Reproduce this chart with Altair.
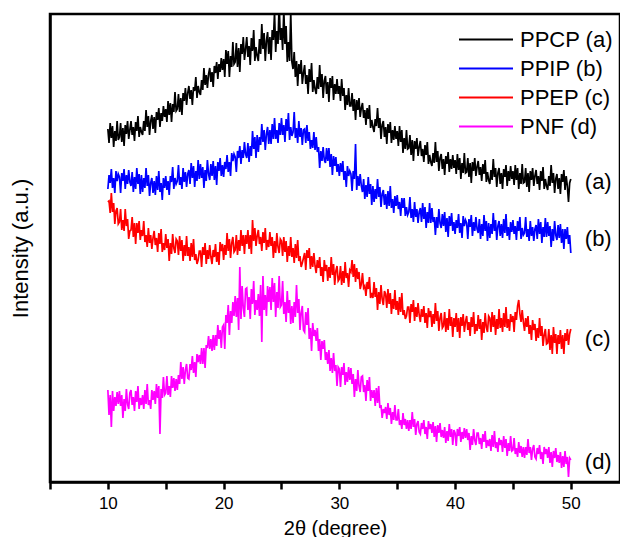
import altair as alt
import numpy as np
import pandas as pd

series_names = ["PPCP (a)", "PPIP (b)", "PPEP (c)", "PNF (d)"]
series_tags = ["(a)", "(b)", "(c)", "(d)"]
series_colors = ["#000000", "#0000ff", "#ff0000", "#ff00ff"]

# offset intensities (a.u.), 2theta = 10..50 in 0.1 steps
ppcp = [
    353, 339, 359, 344, 356, 335, 351, 341, 361, 342,
    345, 359, 340, 354, 336, 357, 348, 361, 343, 352,
    361, 347, 355, 341, 360, 351, 366, 345, 355, 350,
    347, 361, 351, 372, 355, 366, 347, 361, 367, 353,
    365, 349, 370, 362, 374, 355, 369, 361, 376, 365,
    373, 360, 381, 367, 379, 360, 378, 370, 390, 371,
    373, 388, 370, 384, 367, 389, 381, 394, 377, 389,
    396, 383, 392, 377, 395, 391, 405, 384, 396, 390,
    387, 402, 392, 414, 397, 407, 394, 408, 414, 400,
    410, 395, 416, 409, 420, 403, 418, 410, 424, 412,
    423, 405, 432, 418, 431, 405, 426, 415, 440, 418,
    420, 439, 415, 434, 410, 438, 428, 445, 422, 433,
    445, 425, 436, 417, 444, 431, 452, 421, 435, 426,
    421, 443, 428, 458, 433, 449, 421, 441, 450, 428,
    445, 422, 452, 442, 470, 430, 451, 438, 480, 442,
    454, 432, 472, 438, 456, 420, 440, 421, 470, 420,
    413, 430, 405, 421, 396, 418, 408, 422, 398, 409,
    417, 398, 407, 388, 413, 400, 419, 390, 402, 393,
    388, 405, 393, 417, 395, 408, 384, 401, 406, 388,
    400, 380, 404, 394, 406, 382, 398, 388, 403, 388,
    396, 381, 403, 386, 394, 372, 387, 377, 394, 376,
    376, 389, 371, 383, 362, 382, 372, 384, 365, 374,
    379, 364, 372, 357, 374, 363, 377, 354, 362, 355,
    350, 363, 356, 374, 354, 364, 343, 357, 361, 345,
    355, 338, 358, 349, 360, 339, 352, 342, 356, 343,
    351, 336, 356, 340, 352, 329, 344, 333, 352, 333,
    334, 347, 327, 342, 321, 341, 333, 344, 326, 335,
    341, 326, 333, 320, 337, 327, 340, 318, 327, 320,
    316, 329, 319, 340, 320, 331, 311, 324, 328, 313,
    323, 307, 326, 318, 330, 310, 323, 313, 327, 314,
    322, 308, 328, 312, 324, 303, 319, 309, 329, 309,
    310, 324, 305, 319, 299, 320, 311, 324, 306, 315,
    321, 307, 315, 301, 318, 308, 322, 300, 310, 302,
    298, 312, 302, 323, 305, 314, 295, 309, 314, 298,
    309, 293, 313, 305, 317, 296, 311, 301, 316, 303,
    311, 297, 317, 302, 314, 293, 309, 298, 318, 299,
    300, 314, 295, 309, 290, 311, 302, 314, 296, 306,
    312, 298, 306, 292, 311, 301, 315, 293, 303, 296,
    292, 306, 296, 317, 299, 309, 289, 303, 308, 293,
    304, 288, 308, 300, 312, 292, 306, 296, 280, 299,
    303,
]
ppip = [
    293, 307, 299, 313, 294, 304, 289, 311, 301, 308,
    305, 289, 309, 301, 313, 293, 307, 298, 312, 300,
    296, 310, 290, 305, 293, 314, 298, 308, 288, 307,
    290, 304, 294, 314, 296, 307, 286, 299, 304, 289,
    301, 287, 306, 292, 311, 290, 299, 282, 304, 294,
    306, 292, 301, 287, 306, 300, 315, 293, 304, 298,
    301, 317, 297, 305, 293, 314, 300, 310, 295, 308,
    312, 298, 319, 304, 316, 295, 311, 301, 322, 303,
    318, 304, 315, 294, 312, 301, 322, 308, 302, 318,
    306, 321, 302, 316, 297, 320, 311, 324, 306, 317,
    305, 320, 313, 327, 310, 320, 306, 329, 321, 328,
    325, 310, 331, 324, 336, 318, 332, 324, 340, 328,
    324, 339, 320, 336, 326, 351, 333, 345, 324, 347,
    330, 345, 337, 358, 340, 352, 332, 348, 355, 338,
    352, 338, 358, 343, 364, 343, 352, 339, 359, 347,
    364, 347, 357, 340, 363, 351, 369, 342, 355, 346,
    350, 370, 344, 354, 339, 361, 345, 354, 337, 352,
    353, 339, 357, 341, 350, 333, 342, 334, 350, 332,
    345, 330, 335, 314, 331, 321, 335, 322, 319, 334,
    321, 334, 315, 328, 307, 326, 316, 325, 310, 318,
    306, 319, 310, 321, 302, 311, 295, 316, 306, 311,
    308, 291, 311, 303, 338, 292, 306, 296, 308, 296,
    290, 303, 283, 297, 285, 305, 288, 298, 277, 296,
    280, 293, 283, 303, 285, 295, 275, 288, 292, 277,
    288, 273, 291, 276, 296, 274, 283, 269, 286, 276,
    287, 273, 280, 266, 284, 274, 284, 266, 275, 267,
    270, 285, 264, 273, 260, 280, 265, 273, 259, 270,
    274, 260, 279, 263, 275, 254, 270, 259, 279, 259,
    274, 260, 265, 247, 265, 254, 273, 259, 254, 268,
    256, 270, 250, 264, 245, 266, 256, 269, 251, 260,
    248, 262, 254, 268, 249, 259, 244, 266, 256, 262,
    259, 243, 263, 255, 267, 246, 260, 251, 265, 253,
    249, 263, 243, 258, 246, 267, 251, 261, 241, 259,
    244, 258, 248, 269, 251, 262, 242, 256, 261, 246,
    258, 244, 263, 249, 268, 246, 255, 242, 260, 250,
    262, 248, 256, 242, 261, 251, 265, 243, 254, 247,
    249, 265, 245, 253, 241, 261, 246, 255, 241, 253,
    257, 243, 263, 248, 260, 239, 255, 245, 264, 245,
    260, 246, 256, 235, 253, 241, 261, 247, 242, 257,
    244, 258, 239, 253, 233, 253, 243, 255, 238, 247,
    229,
]
ppep = [
    280, 281, 269, 289, 270, 279, 258, 271, 274, 258,
    260, 273, 252, 262, 251, 273, 256, 263, 243, 251,
    252, 265, 245, 259, 238, 259, 249, 261, 242, 252,
    246, 261, 240, 247, 235, 254, 239, 247, 233, 244,
    251, 237, 244, 230, 249, 238, 253, 230, 239, 232,
    248, 234, 243, 221, 239, 228, 248, 234, 229, 243,
    241, 227, 246, 231, 242, 221, 237, 226, 246, 226,
    235, 221, 239, 225, 243, 222, 228, 218, 222, 231,
    231, 215, 235, 227, 239, 218, 232, 223, 237, 225,
    218, 232, 225, 238, 220, 230, 217, 240, 231, 238,
    222, 237, 227, 249, 231, 243, 224, 239, 245, 230,
    232, 247, 227, 242, 231, 252, 236, 247, 228, 247,
    238, 252, 233, 247, 228, 262, 241, 254, 236, 246,
    252, 238, 245, 231, 250, 239, 254, 232, 242, 235,
    250, 236, 245, 224, 241, 229, 249, 235, 229, 243,
    241, 226, 245, 230, 241, 220, 236, 226, 245, 225,
    234, 219, 238, 224, 242, 221, 226, 215, 219, 224,
    229, 212, 232, 224, 234, 213, 226, 215, 229, 216,
    209, 222, 214, 225, 206, 215, 200, 222, 211, 217,
    201, 215, 204, 225, 207, 218, 197, 211, 216, 201,
    203, 216, 197, 211, 199, 220, 204, 209, 195, 212,
    210, 222, 205, 218, 200, 214, 203, 210, 193, 198,
    209, 194, 196, 186, 200, 193, 205, 184, 189, 184,
    200, 185, 194, 172, 190, 178, 197, 183, 177, 191,
    188, 174, 193, 178, 189, 168, 183, 173, 192, 172,
    181, 167, 185, 170, 189, 167, 172, 163, 166, 175,
    175, 159, 178, 170, 182, 161, 175, 165, 179, 167,
    160, 173, 165, 176, 159, 169, 154, 174, 165, 171,
    155, 168, 158, 179, 161, 171, 151, 164, 169, 154,
    156, 170, 150, 164, 152, 173, 156, 165, 145, 164,
    155, 169, 150, 164, 144, 165, 156, 168, 150, 160,
    166, 152, 160, 146, 165, 155, 170, 148, 158, 151,
    167, 153, 163, 142, 160, 149, 169, 155, 150, 166,
    164, 150, 170, 155, 167, 147, 163, 153, 173, 154,
    164, 150, 169, 155, 175, 154, 163, 151, 168, 160,
    166, 150, 170, 162, 176, 182, 168, 160, 172, 160,
    151, 164, 155, 166, 148, 157, 142, 162, 152, 158,
    141, 154, 144, 164, 146, 156, 136, 147, 153, 138,
    139, 153, 132, 147, 128, 155, 139, 148, 128, 147,
    138, 152, 133, 147, 128, 149, 141, 153, 137, 148,
    153,
]
pnf = [
    92, 67, 87, 55, 91, 71, 85, 76, 90, 78,
    91, 76, 87, 64, 83, 71, 93, 78, 73, 89,
    92, 77, 85, 71, 91, 80, 96, 73, 84, 77,
    87, 73, 92, 78, 98, 77, 82, 73, 92, 82,
    91, 78, 98, 84, 96, 48, 93, 84, 105, 87,
    89, 106, 87, 96, 85, 106, 94, 104, 91, 103,
    92, 107, 98, 120, 103, 115, 98, 112, 118, 104,
    103, 118, 112, 126, 109, 120, 105, 128, 120, 127,
    118, 134, 118, 134, 114, 137, 134, 146, 133, 143,
    131, 147, 132, 147, 136, 157, 143, 152, 134, 155,
    157, 133, 167, 159, 177, 147, 171, 159, 180, 166,
    186, 165, 184, 152, 215, 163, 196, 174, 165, 193,
    194, 172, 185, 163, 193, 178, 201, 167, 182, 172,
    188, 166, 197, 140, 206, 172, 187, 166, 196, 180,
    195, 172, 204, 180, 199, 165, 190, 174, 206, 175,
    177, 201, 168, 180, 160, 191, 169, 182, 158, 176,
    159, 180, 165, 197, 169, 183, 152, 169, 176, 152,
    150, 170, 157, 174, 143, 154, 131, 159, 146, 152,
    141, 154, 131, 143, 122, 141, 133, 142, 122, 130,
    118, 132, 111, 124, 109, 129, 111, 117, 96, 115,
    113, 95, 115, 107, 119, 97, 110, 100, 115, 102,
    114, 98, 108, 85, 103, 91, 112, 96, 90, 105,
    106, 90, 97, 81, 102, 91, 105, 81, 92, 84,
    92, 76, 94, 79, 96, 74, 77, 64, 73, 69,
    75, 63, 79, 67, 74, 58, 70, 62, 77, 62,
    62, 73, 57, 62, 53, 69, 57, 63, 53, 62,
    51, 62, 53, 70, 55, 63, 47, 58, 61, 50,
    48, 59, 53, 62, 48, 55, 43, 61, 53, 58,
    49, 60, 45, 56, 40, 57, 49, 59, 45, 52,
    44, 55, 39, 51, 41, 58, 45, 53, 37, 52,
    49, 36, 53, 46, 55, 40, 50, 43, 54, 44,
    53, 42, 49, 32, 46, 37, 53, 42, 37, 49,
    49, 38, 44, 33, 48, 40, 51, 34, 42, 36,
    43, 31, 47, 35, 51, 34, 40, 30, 44, 37,
    42, 30, 46, 34, 43, 26, 39, 31, 46, 31,
    32, 44, 28, 34, 25, 40, 29, 36, 25, 35,
    24, 35, 27, 43, 29, 35, 22, 33, 37, 25,
    23, 34, 28, 37, 23, 30, 18, 35, 28, 33,
    24, 35, 19, 30, 15, 31, 24, 34, 20, 27,
    19, 30, 14, 26, 15, 31, 18, 25, 5, 24,
    22,
]

all_series = [ppcp, ppip, ppep, pnf]

rows = []
for name, vals in zip(series_names, all_series):
    n = len(vals)
    for i, y in enumerate(vals):
        rows.append({"theta": round(10 + 40 * i / (n - 1), 2), "intensity": y, "sample": name})
df = pd.DataFrame(rows)

tag_rows = []
for tag, vals in zip(series_tags, all_series):
    tag_rows.append({"theta": 50, "intensity": float(np.mean(vals[-9:])), "tag": tag})
tags = pd.DataFrame(tag_rows)

x_scale = alt.Scale(domain=[5, 54.25], nice=False, zero=False)
y_scale = alt.Scale(domain=[0, 468], nice=False, zero=False)

x_axis = alt.Axis(
    title="2θ (degree)",
    values=[5, 10, 15, 20, 25, 30, 35, 40, 45, 50],
    labelExpr="datum.value % 10 == 0 ? datum.label : ''",
    grid=False,
    domainColor="black", domainWidth=2.5,
    tickColor="black", tickWidth=2.5, tickSize=7,
    labelFontSize=17, labelColor="black", labelPadding=6,
    titleFontSize=20, titleFontWeight="normal", titleColor="black",
    titlePadding=7,
)
y_axis = alt.Axis(
    title="Intensity (a.u.)",
    labels=False, ticks=False, grid=False,
    domainColor="black", domainWidth=2.5,
    titleFontSize=22, titleFontWeight="normal", titleColor="black",
    titlePadding=18,
)

lines = alt.Chart(df).mark_line(strokeWidth=1.7, clip=True).encode(
    x=alt.X("theta:Q", scale=x_scale, axis=x_axis),
    y=alt.Y("intensity:Q", scale=y_scale, axis=y_axis),
    color=alt.Color(
        "sample:N",
        scale=alt.Scale(domain=series_names, range=series_colors),
        sort=series_names,
        legend=alt.Legend(
            title=None, orient="none", legendX=408, legendY=11,
            symbolType="stroke", symbolSize=2916, symbolStrokeWidth=2,
            labelFontSize=22, labelColor="black", labelOffset=6,
            clipHeight=29, rowPadding=0, padding=0,
        ),
    ),
    detail="sample:N",
    order="theta:Q",
)

labels = alt.Chart(tags).mark_text(
    align="left", baseline="middle", dx=14, fontSize=22, color="black"
).encode(
    x=alt.X("theta:Q", scale=x_scale),
    y=alt.Y("intensity:Q", scale=y_scale),
    text="tag:N",
)

chart = (
    alt.layer(lines, labels)
    .properties(
        width=570, height=468,
        padding={"left": 42, "top": 6, "right": 0, "bottom": 55},
        autosize=alt.AutoSizeParams(type="none"),
    )
    .configure(font="Liberation Sans")
    .configure_view(stroke="black", strokeWidth=2.5)
)

chart.save("out.html", embed_options={"renderer": "svg", "actions": False})
